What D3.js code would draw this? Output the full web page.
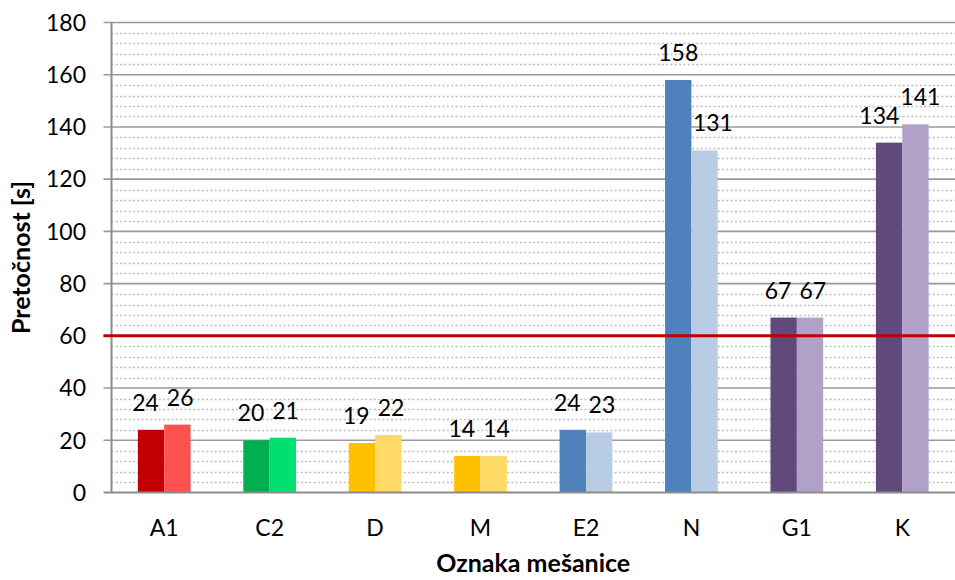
<!DOCTYPE html>
<html>
<head>
<meta charset="utf-8">
<script src="https://cdn.jsdelivr.net/npm/d3@7"></script>
<style>
  html, body { margin: 0; padding: 0; background: #fff; }
  svg { display: block; font-family: Lato, "Open Sans", sans-serif; }
</style>
</head>
<body>
<svg id="chart" width="955" height="580"></svg>
<script>
// Flowability of each mixture, two measurements per mixture
const categories = ["A1", "C2", "D", "M", "E2", "N", "G1", "K"];
const measurement1 = [24, 20, 19, 14, 24, 158, 67, 134];
const measurement2 = [26, 21, 22, 14, 23, 131, 67, 141];
const yTicks = [0, 20, 40, 60, 80, 100, 120, 140, 160, 180];
const limitValue = 60;

const darkColors  = ["#C00000", "#00B050", "#FFC000", "#FFC000", "#4F81BD", "#4F81BD", "#604A7B", "#604A7B"];
const lightColors = ["#FF5050", "#00E070", "#FFD966", "#FFD966", "#B8CCE4", "#B8CCE4", "#B1A0C7", "#B1A0C7"];

const svg = d3.select("#chart");
const margin = { left: 111.5, right: 0, top: 22.5, bottom: 87.5 };
const W = 955, H = 580;
const x0 = margin.left, x1 = W - margin.right;
const yTop = margin.top, yBot = H - margin.bottom;
const fs = 23;

const x = d3.scaleBand().domain(categories).range([x0, x1])
  .paddingInner(0.5).paddingOuter(0.25);
const xs = d3.scaleBand().domain([0, 1]).range([0, x.bandwidth()]);
const y = d3.scaleLinear().domain([0, 180]).range([yBot, yTop]);

// minor dotted gridlines every 4 units
const minor = d3.range(0, 181, 4).filter(v => v % 20 !== 0);
svg.append("g").selectAll("line").data(minor).join("line")
  .attr("x1", x0).attr("x2", x1)
  .attr("y1", d => Math.round(y(d)) + 0.5).attr("y2", d => Math.round(y(d)) + 0.5)
  .attr("stroke", "#BDBDBD").attr("stroke-width", 1.3)
  .attr("stroke-dasharray", "2,2.3");

// major gridlines
svg.append("g").selectAll("line").data(yTicks.filter(v => v > 0)).join("line")
  .attr("x1", x0 - 8).attr("x2", x1)
  .attr("y1", d => y(d)).attr("y2", d => y(d))
  .attr("stroke", "#999").attr("stroke-width", 1.6);

// bars
const rows = categories.map((c, i) => ({ c, i, vals: [measurement1[i], measurement2[i]] }));
const bars = [];
rows.forEach(r => r.vals.forEach((v, k) => bars.push({ c: r.c, i: r.i, k, v })));

svg.append("g").selectAll("rect").data(bars).join("rect")
  .attr("x", d => x(d.c) + xs(d.k))
  .attr("width", xs.bandwidth())
  .attr("y", d => y(d.v))
  .attr("height", d => y(0) - y(d.v))
  .attr("fill", d => d.k === 0 ? darkColors[d.i] : lightColors[d.i]);

// axes lines
svg.append("line").attr("x1", x0).attr("x2", x0).attr("y1", yTop).attr("y2", yBot)
  .attr("stroke", "#8C8C8C").attr("stroke-width", 2);
svg.append("line").attr("x1", x0 - 8).attr("x2", x1).attr("y1", yBot).attr("y2", yBot)
  .attr("stroke", "#8C8C8C").attr("stroke-width", 2);

// limit line
svg.append("line").attr("x1", x0 - 8).attr("x2", x1)
  .attr("y1", y(limitValue)).attr("y2", y(limitValue))
  .attr("stroke", "#C00000").attr("stroke-width", 3);

// y tick labels
svg.append("g").selectAll("text").data(yTicks).join("text")
  .attr("x", 86).attr("y", d => y(d)).attr("dy", "0.36em")
  .attr("text-anchor", "end").attr("font-size", fs).attr("fill", "#000")
  .text(d => d);

// category labels
svg.append("g").selectAll("text").data(categories).join("text")
  .attr("x", d => x(d) + x.bandwidth() / 2).attr("y", 536)
  .attr("text-anchor", "middle").attr("font-size", fs).attr("fill", "#000")
  .text(d => d);

// value labels, nudged apart where they would collide
const labelG = svg.append("g");
const labels = bars.map(d => {
  const t = labelG.append("text")
    .attr("text-anchor", "middle").attr("font-size", fs).attr("fill", "#000")
    .text(d.v);
  const w = t.node().getComputedTextLength();
  return { d, t, w, cx: x(d.c) + xs(d.k) + xs.bandwidth() / 2, base: y(d.v) - 19 };
});
for (let i = 0; i < labels.length; i += 2) {
  const a = labels[i], b = labels[i + 1];
  const dv = Math.abs(a.base - b.base);
  const gap = dv < 12 ? 8 : (dv < 28 ? 1 : null);
  if (gap !== null) {
    const g = (b.cx - b.w / 2) - (a.cx + a.w / 2);
    if (g < gap) { const s = gap - g; a.cx -= s * 2 / 3; b.cx += s / 3; }
  }
  // keep the second label clear of a taller first bar
  const barA = bars[i];
  const aRight = x(barA.c) + xs(0) + xs.bandwidth();
  if (barA.v > b.d.v && b.base > y(barA.v) && b.cx - b.w / 2 < aRight + 1.5) {
    b.cx = aRight + 1.5 + b.w / 2;
  }
}
labels.forEach(l => l.t.attr("x", l.cx).attr("y", l.base));

// axis titles
svg.append("text")
  .attr("x", (x0 + x1) / 2).attr("y", 572)
  .attr("text-anchor", "middle").attr("font-size", 25).attr("font-weight", "bold")
  .text("Oznaka mešanice");
svg.append("text")
  .attr("transform", `translate(30,${(yTop + yBot) / 2}) rotate(-90)`)
  .attr("text-anchor", "middle").attr("font-size", 25).attr("font-weight", "bold")
  .text("Pretočnost [s]");
</script>
</body>
</html>
